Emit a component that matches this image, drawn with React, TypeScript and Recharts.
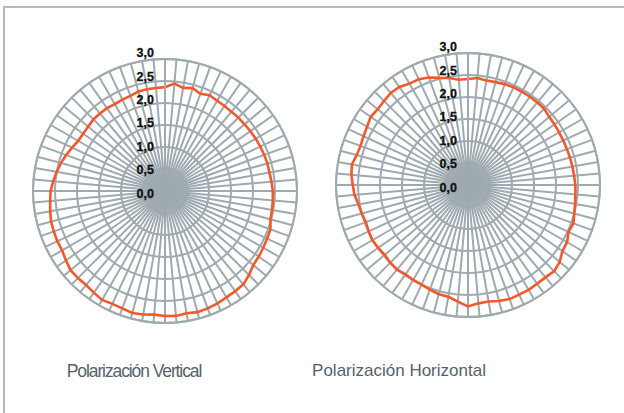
import React from 'react';
import { RadarChart, Radar, PolarGrid, PolarAngleAxis, PolarRadiusAxis } from 'recharts';

// angle in degrees, clockwise from the top
const ANGLES = [
    0, 5, 10, 15, 20, 25, 30, 35, 40, 45, 50, 55, 60, 65, 70, 75, 80, 85,
    90, 95, 100, 105, 110, 115, 120, 125, 130, 135, 140, 145, 150, 155, 160, 165, 170, 175,
    180, 185, 190, 195, 200, 205, 210, 215, 220, 225, 230, 235, 240, 245, 250, 255, 260, 265,
    270, 275, 280, 285, 290, 295, 300, 305, 310, 315, 320, 325, 330, 335, 340, 345, 350, 355,
];

const VERTICAL = [
    2.36, 2.45, 2.38, 2.42, 2.35, 2.40, 2.37, 2.36, 2.35, 2.36, 2.36, 2.37, 2.38, 2.39, 2.40, 2.41, 2.41, 2.43,
    2.45, 2.46, 2.47, 2.48, 2.55, 2.56, 2.58, 2.60, 2.62, 2.70, 2.77, 2.78, 2.79, 2.82, 2.84, 2.85, 2.82, 2.85,
    2.84, 2.82, 2.85, 2.87, 2.84, 2.83, 2.86, 2.82, 2.79, 2.80, 2.80, 2.75, 2.70, 2.70, 2.69, 2.68, 2.65, 2.62,
    2.60, 2.55, 2.50, 2.45, 2.39, 2.33, 2.28, 2.27, 2.28, 2.30, 2.30, 2.30, 2.28, 2.29, 2.30, 2.34, 2.35, 2.35,
];

const HORIZONTAL = [
    2.41, 2.44, 2.41, 2.42, 2.44, 2.45, 2.45, 2.45, 2.45, 2.45, 2.41, 2.40, 2.39, 2.39, 2.39, 2.40, 2.41, 2.42,
    2.44, 2.45, 2.47, 2.50, 2.55, 2.52, 2.60, 2.62, 2.72, 2.77, 2.74, 2.74, 2.75, 2.75, 2.76, 2.73, 2.69, 2.70,
    2.76, 2.66, 2.58, 2.57, 2.53, 2.50, 2.49, 2.48, 2.51, 2.50, 2.47, 2.49, 2.51, 2.49, 2.47, 2.50, 2.53, 2.59,
    2.62, 2.66, 2.68, 2.62, 2.60, 2.62, 2.65, 2.70, 2.68, 2.70, 2.73, 2.72, 2.66, 2.65, 2.60, 2.52, 2.47, 2.40,
];

const RADIUS_TICKS = [0, 0.5, 1, 1.5, 2, 2.5, 3];

const GRID = '#9eaab0';
const ORANGE = '#f2582a';
const FONT = "'Liberation Sans', Arial, sans-serif";

function RadiusTick(props: any) {
    const { x, y, payload } = props;
    const v = payload.value;
    return (
        <text
            x={x - 11}
            y={y + 2.5 - 2.8 * v}
            textAnchor="end"
            dominantBaseline="central"
            style={{ fontFamily: FONT, fontWeight: 700, fontSize: 12.5 }}
            fill="#111"
            stroke="#111"
            strokeWidth={0.3}
        >
            {v.toFixed(1).replace('.', ',')}
        </text>
    );
}

function PolarPlot({ values, left, top }: { values: number[]; left: number; top: number }) {
    const data = ANGLES.map((a, i) => ({ angle: a, value: values[i] }));
    return (
        <div style={{ position: 'absolute', left, top }}>
            <RadarChart width={300} height={300} data={data} cx={150} cy={150} outerRadius={132} margin={{ top: 0, right: 0, bottom: 0, left: 0 }}>
                <PolarGrid gridType="circle" stroke={GRID} strokeWidth={2} />
                <PolarAngleAxis dataKey="angle" tick={false} tickLine={false} axisLine={{ stroke: GRID, strokeWidth: 1.8 }} />
                <PolarRadiusAxis
                    angle={90}
                    domain={[0, 3]}
                    ticks={RADIUS_TICKS}
                    tickCount={7}
                    axisLine={{ stroke: GRID, strokeWidth: 2 }}
                    tickLine={false}
                    tick={<RadiusTick />}
                />
                <Radar dataKey="value" stroke={ORANGE} strokeWidth={2.6} fill="none" fillOpacity={0} dot={false} isAnimationActive={false} />
            </RadarChart>
        </div>
    );
}

export default function App() {
    return (
        <div style={{ position: 'absolute', left: 0, top: 0, width: 624, height: 413, background: '#fff', overflow: 'hidden' }}>
            <div style={{ position: 'absolute', left: 3, top: 6, width: 621, height: 2, background: '#b3b9bd' }} />
            <div style={{ position: 'absolute', left: 3, top: 6, width: 2, height: 407, background: '#b3b9bd' }} />
            <PolarPlot values={VERTICAL} left={15} top={41} />
            <PolarPlot values={HORIZONTAL} left={318} top={35} />
            <div style={{ position: 'absolute', left: 34, width: 200, top: 361, textAlign: 'center', fontFamily: FONT, fontSize: 17.5, letterSpacing: -1.1, color: '#55626a' }}>
                Polarización Vertical
            </div>
            <div style={{ position: 'absolute', left: 299, width: 200, top: 361, textAlign: 'center', fontFamily: FONT, fontSize: 17, color: '#55626a' }}>
                Polarización Horizontal
            </div>
        </div>
    );
}
